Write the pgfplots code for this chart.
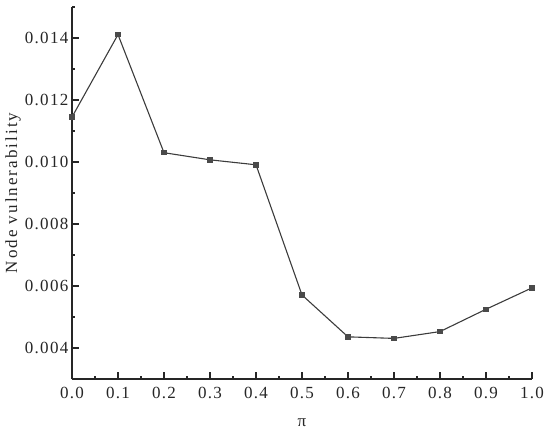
\documentclass[border=0pt]{standalone}
\usepackage{fontspec}
\setmainfont{Liberation Serif}
\newfontfamily\labfont[LetterSpace=12]{Liberation Serif}
\newfontfamily\tickfont[LetterSpace=8]{Liberation Serif}
\usepackage{pgfplots}
\pgfplotsset{compat=1.18}
\definecolor{linec}{HTML}{3C3C3C}
\definecolor{markc}{HTML}{4A4A4A}
\begin{document}
\begin{tikzpicture}
\begin{axis}[
 scale only axis, width=460pt, height=372pt,
 xmin=0, xmax=1, ymin=0.003, ymax=0.015,
 axis lines*=left,
 axis line style={line width=1.2pt, color=black!85},
 tick align=inside, major tick length=7pt, minor tick length=3.5pt,
 every tick/.style={line width=1.1pt, black!85},
 xtick={0,0.1,0.2,0.3,0.4,0.5,0.6,0.7,0.8,0.9,1.0},
 minor xtick={0.05,0.15,0.25,0.35,0.45,0.55,0.65,0.75,0.85,0.95},
 ytick={0.004,0.006,0.008,0.010,0.012,0.014},
 minor ytick={0.003,0.005,0.007,0.009,0.011,0.013,0.015},
 scaled y ticks=false,
 yticklabel style={/pgf/number format/fixed, /pgf/number format/fixed zerofill, /pgf/number format/precision=3, xshift=0pt},
 xticklabel style={/pgf/number format/fixed, /pgf/number format/fixed zerofill, /pgf/number format/precision=1, yshift=-4.5pt},
 /pgf/number format/assume math mode=true,
 ticklabel style={font=\tickfont\fontsize{17}{18}\selectfont, text=black!85},
 xlabel={π}, ylabel={Node vulnerability},
 every axis y label/.style={at={(axis description cs:-0.128,0.5)}, rotate=90, anchor=center,
   font=\labfont\fontsize{17}{18}\selectfont, text=black!85},
 every axis x label/.style={at={(axis description cs:0.5,-0.117)}, anchor=center,
   font=\fontsize{17}{18}\selectfont, text=black!85},
 clip=false,
]
\addplot[color=linec, line width=1.1pt, mark=square*, mark size=2.2pt,
  mark options={fill=markc, draw=markc}] coordinates {
 (0.0,0.01145) (0.1,0.01411) (0.2,0.01030) (0.3,0.01007) (0.4,0.00991)
 (0.5,0.00571) (0.6,0.00436) (0.7,0.00431) (0.8,0.00453) (0.9,0.00525) (1.0,0.00594)
};
\coordinate (sw) at (rel axis cs:0,0);
\coordinate (ne) at (rel axis cs:1,1);
\end{axis}
\pgfresetboundingbox
\path ([shift={(-72pt,-50pt)}]sw) rectangle ([shift={(18pt,7pt)}]ne);
\end{tikzpicture}
\end{document}
